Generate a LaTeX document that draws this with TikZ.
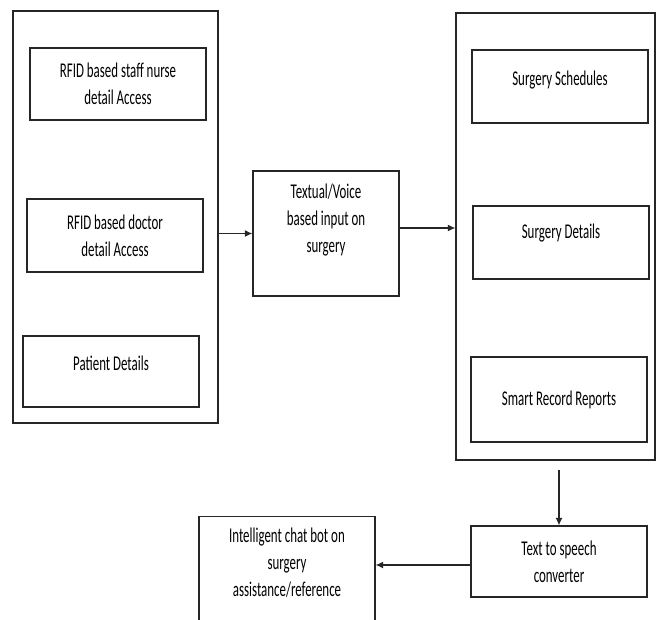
\documentclass[tikz,border=0pt]{standalone}
\usepackage{fontspec}
\setmainfont{Carlito}[FakeStretch=0.615]
\usetikzlibrary{arrows.meta, positioning}
\definecolor{linegray}{HTML}{262626}

\begin{document}
\begin{tikzpicture}[
    x=1pt, y=-1pt,
    font=\fontsize{21}{27}\selectfont,
    panel/.style={rectangle, draw=linegray, line width=1.3pt, inner sep=0pt},
    itembox/.style={rectangle, draw=linegray, line width=1.3pt, align=center,
                    inner sep=2pt, minimum width=176pt},
    arrow/.style={-{Latex[length=7.5pt, width=7pt]}, line width=1.2pt, draw=linegray}
  ]
    % Fix the page to the reference size
    \clip (0,0) rectangle (657,620);
    \fill[white] (0,0) rectangle (657,620);

    % Left panel: access modules
    \node[panel, minimum width=205pt, minimum height=412pt] (staffpanel) at (115.5, 217) {};
    \node[itembox, minimum height=72pt] (nurse)   at (118, 84)    {RFID based staff nurse\\detail Access};
    \node[itembox, minimum height=73pt] (doctor)  at (115, 235.5) {RFID based doctor\\detail Access};
    \node[itembox, minimum height=71pt, text depth=17pt] (patient) at (111, 371.5) {Patient Details};

    % Input block in the middle
    \node[itembox, minimum width=146pt, minimum height=125pt, text depth=31pt] (input) at (326, 233.5)
      {Textual/Voice\\based input on\\surgery};

    % Right panel: surgery records
    \node[panel, minimum width=199pt, minimum height=447pt] (recordpanel) at (555.5, 236.5) {};
    \node[itembox, minimum height=73pt, text depth=17pt] (schedules) at (560, 86.5)  {Surgery Schedules};
    \node[itembox, minimum height=73pt, text depth=23pt] (details)   at (561, 242.5) {Surgery Details};
    \node[itembox, minimum height=85pt] (smart)     at (559, 399.5) {Smart Record Reports};

    % Output chain at the bottom
    \node[itembox, minimum height=71pt] (tts) at (559, 561.5) {Text to speech\\converter};
    \node[itembox, anchor=north, text depth=60pt, inner ysep=11pt] (chatbot) at (287, 516)
      {Intelligent chat bot on\\surgery\\assistance/reference};

    % Connectors
    \draw[arrow] (input.west -| staffpanel.east) -- (input.west);
    \draw[arrow] ([yshift=5.5pt]input.east) -- ([yshift=5.5pt]input.east -| recordpanel.west);
    \draw[arrow, shorten <=9pt] (tts.north |- recordpanel.south) -- (tts.north);
    \draw[arrow] ([yshift=-3.5pt]tts.west) -- ([yshift=-3.5pt]tts.west -| chatbot.east);
  \end{tikzpicture}
\end{document}
